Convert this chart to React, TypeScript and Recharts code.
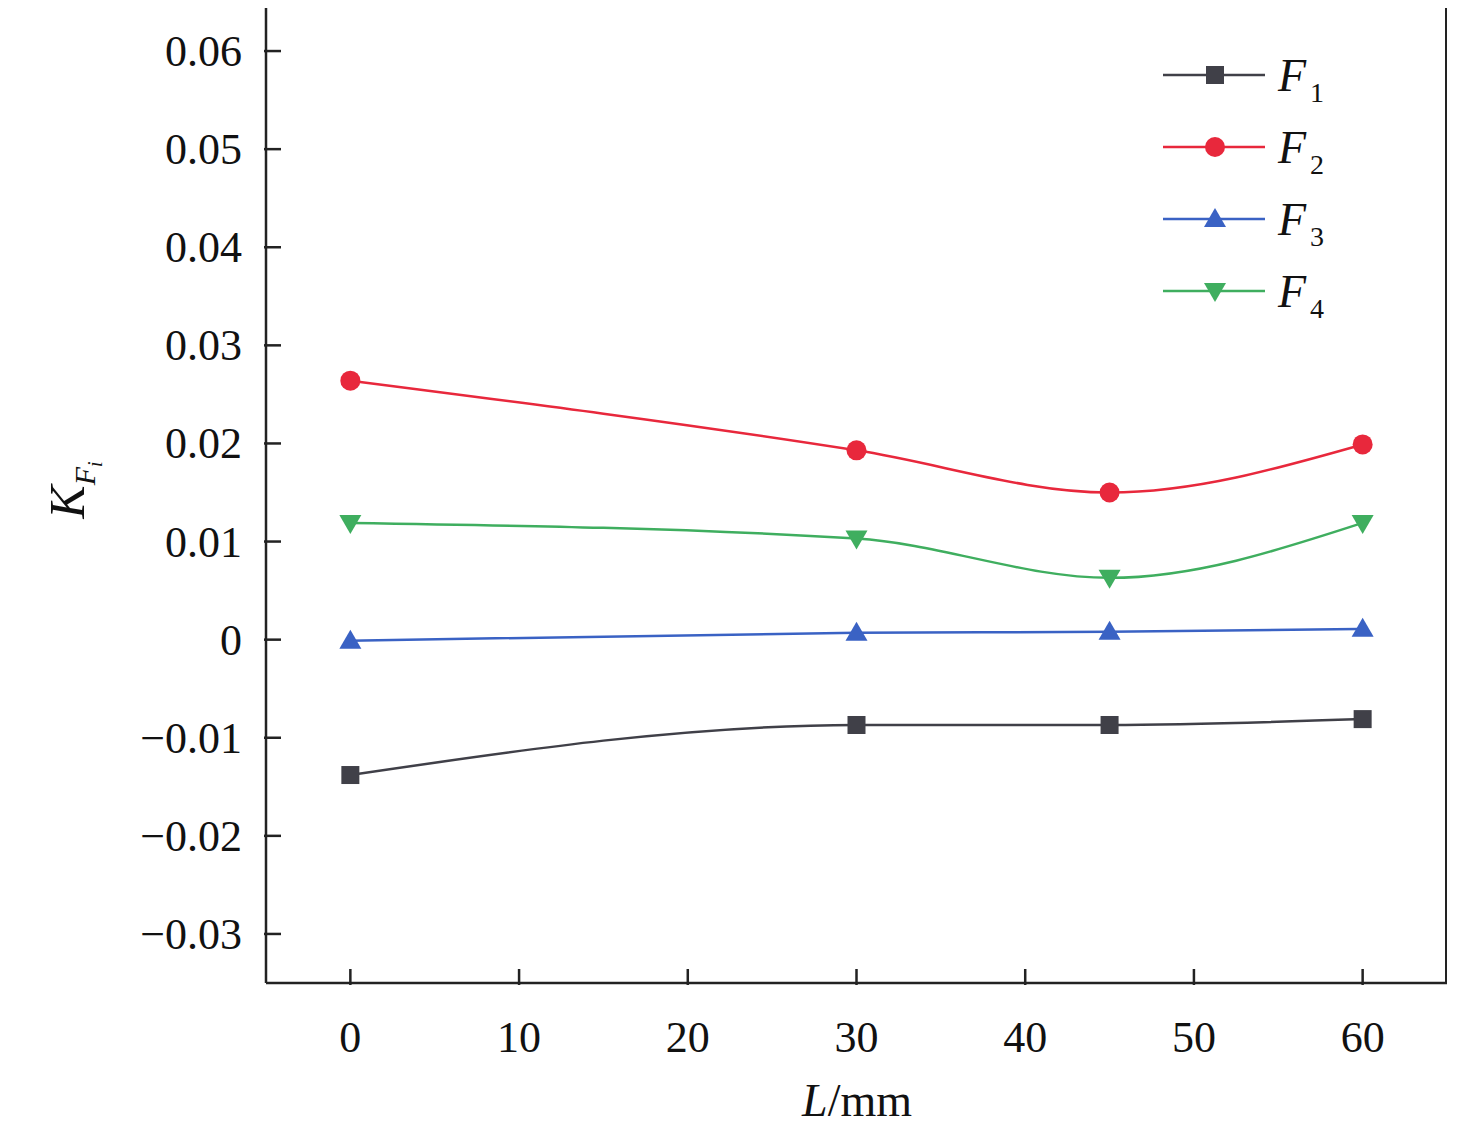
import { LineChart, Line, XAxis, YAxis } from "recharts";

const lengths = [0, 30, 45, 60];
const f1 = [-0.0138, -0.0087, -0.0087, -0.0081];
const f2 = [0.0264, 0.0193, 0.015, 0.0199];
const f3 = [-0.0001, 0.0007, 0.0008, 0.0011];
const f4 = [0.0119, 0.0103, 0.0063, 0.0119];
const xTicks = [0, 10, 20, 30, 40, 50, 60];
const yTicks = [-0.03, -0.02, -0.01, 0, 0.01, 0.02, 0.03, 0.04, 0.05, 0.06];

const data = lengths.map((L, i) => ({ L, f1: f1[i], f2: f2[i], f3: f3[i], f4: f4[i] }));

const FONT = "'Liberation Serif', 'DejaVu Serif', 'Times New Roman', serif";
const AX = "#222";
const series = [
  { key: "f1", name: "1", color: "#404048", shape: "square" },
  { key: "f2", name: "2", color: "#e8283c", shape: "circle" },
  { key: "f3", name: "3", color: "#3a62c4", shape: "up" },
  { key: "f4", name: "4", color: "#3fae5f", shape: "down" },
];

function Marker({ cx, cy, color, shape }: any) {
  if (cx == null || cy == null) return null;
  if (shape === "square") return <rect x={cx - 9} y={cy - 9} width={18} height={18} fill={color} />;
  if (shape === "circle") return <circle cx={cx} cy={cy} r={10} fill={color} />;
  if (shape === "up") return <polygon points={`${cx},${cy - 11} ${cx - 11},${cy + 8} ${cx + 11},${cy + 8}`} fill={color} />;
  return <polygon points={`${cx},${cy + 11} ${cx - 11},${cy - 8} ${cx + 11},${cy - 8}`} fill={color} />;
}

const fmtY = (v: number) => (v === 0 ? "0" : v < 0 ? "\u2212" + Math.abs(v).toFixed(2) : v.toFixed(2));

function YTick({ x, y, payload }: any) {
  return (
    <g>
      <line x1={x} x2={x + 17} y1={y} y2={y} stroke={AX} strokeWidth={2.5} />
      <text x={x - 22} y={y + 15} textAnchor="end" fontSize={44} fontFamily={FONT} fill="#111">{fmtY(payload.value)}</text>
    </g>
  );
}

function XTick({ x, y, payload }: any) {
  return (
    <g>
      <line x1={x} x2={x} y1={y} y2={y - 16} stroke={AX} strokeWidth={2.5} />
      <text x={x} y={y + 67} textAnchor="middle" fontSize={44} fontFamily={FONT} fill="#111">{payload.value}</text>
    </g>
  );
}

export default function App() {
  return (
    <div style={{ position: "relative", width: 1476, height: 1136, margin: -8, background: "#fff", fontFamily: FONT }}>
      <LineChart width={1476} height={1136} data={data} margin={{ top: 2, right: 29, left: 0, bottom: 0 }}>
        <XAxis dataKey="L" type="number" domain={[-5, 65]} ticks={xTicks} height={153}
          axisLine={{ stroke: AX, strokeWidth: 2.5 }} tickLine={false} tickSize={0} tick={<XTick />} interval={0} />
        <YAxis type="number" domain={[-0.035, 0.065]} ticks={yTicks} width={266}
          axisLine={{ stroke: AX, strokeWidth: 2.5 }} tickLine={false} tickSize={0} tick={<YTick />} interval={0} />
        {series.map((s) => (
          <Line key={s.key} dataKey={s.key} type="monotone" stroke={s.color} strokeWidth={2.5}
            isAnimationActive={false} dot={(p: any) => <Marker key={p.index} {...p} color={s.color} shape={s.shape} />} />
        ))}
      </LineChart>

      <div style={{ position: "absolute", left: 265, top: 1, width: 1182, height: 982, boxSizing: "border-box", borderTop: `2.5px solid ${AX}`, borderRight: `2.5px solid ${AX}`, pointerEvents: "none" }} />

      <svg style={{ position: "absolute", left: 1150, top: 40, overflow: "visible" }} width={220} height={290}>
        {series.map((s, i) => {
          const y = 35 + i * 72;
          return (
            <g key={s.key}>
              <line x1={13} x2={115} y1={y} y2={y} stroke={s.color} strokeWidth={2.5} />
              <Marker cx={65} cy={y} color={s.color} shape={s.shape} />
              <text x={128} y={y + 16} fontSize={46} fontStyle="italic" fontFamily={FONT} fill="#111">F</text>
              <text x={160} y={y + 27} fontSize={28} fontFamily={FONT} fill="#111">{s.name}</text>
            </g>
          );
        })}
      </svg>

      <div style={{ position: "absolute", left: 72, top: 490, transform: "translate(-50%,-50%) rotate(-90deg)", whiteSpace: "nowrap", fontSize: 50, color: "#111" }}>
        <i>K</i><sub style={{ fontSize: 30 }}><i>F</i><sub style={{ fontSize: 20 }}><i>i</i></sub></sub>
      </div>
      <div style={{ position: "absolute", left: 857, top: 1100, transform: "translate(-50%,-50%)", whiteSpace: "nowrap", fontSize: 46, color: "#111" }}>
        <i>L</i>/mm
      </div>
    </div>
  );
}
